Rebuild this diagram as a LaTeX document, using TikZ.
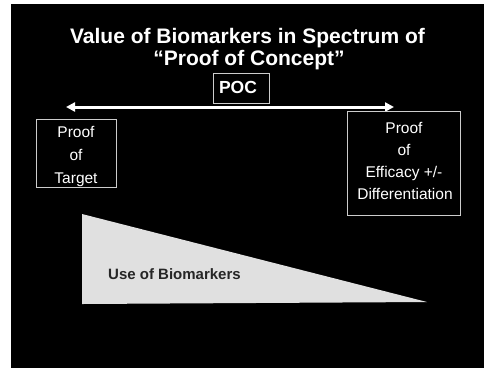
\documentclass[tikz,border=0pt]{standalone}
\usepackage{fontspec}
\setmainfont{Liberation Sans}
\usetikzlibrary{arrows.meta}
\begin{document}
\begin{tikzpicture}[x=1pt,y=-1pt,
  ttl/.style={text=white,font=\fontsize{21}{25}\selectfont\bfseries,anchor=base,inner sep=0pt},
  lbl/.style={text=white,font=\fontsize{15.5}{18}\selectfont,anchor=base,inner sep=0pt},
  frame/.style={draw=white!80!black,line width=0.6pt},
  poc/.style={text=white,font=\fontsize{17.5}{20}\selectfont\bfseries,anchor=base,inner sep=0pt},
  span/.style={draw=white,line width=3pt,{Triangle[length=9pt,width=9pt]}-{Triangle[length=9pt,width=9pt]}}
]
\useasboundingbox (0,0) rectangle (484,368);
\fill[white] (0,0) rectangle (484,368);
\fill[black] (11,4) rectangle (484,368);
% title
\node[ttl] (t1) at (247.5,43) {Value of Biomarkers in Spectrum of};
\node[ttl] (t2) at (249,65) {“Proof of Concept”};
% POC box
\node[frame,minimum width=56pt,minimum height=30pt,inner sep=0pt] (pocbox) at (241,88) {};
\node[poc] (poclbl) at (238,93) {POC};
% arrow
\coordinate (aL) at (66,107);
\coordinate (aR) at (394,107);
\draw[span] (aL) -- (aR);
% left box
\node[frame,minimum width=80pt,minimum height=68pt,inner sep=0pt] (lbox) at (76,153) {};
\node[lbl] (l1) at (76,137) {Proof};
\node[lbl] (l2) at (76,160) {of};
\node[lbl] (l3) at (76,183) {Target};
% right box
\node[frame,minimum width=113pt,minimum height=104pt,inner sep=0pt] (rbox) at (403.5,163) {};
\node[lbl] (r1) at (404,133) {Proof};
\node[lbl] (r2) at (404,155) {of};
\node[lbl] (r3) at (404,177) {Efficacy +/-};
\node[lbl] (r4) at (405,199) {Differentiation};
% triangle
\coordinate (tA) at (82,214);
\coordinate (tB) at (82,304);
\coordinate (tC) at (427,302);
\fill[black!12] (tA) -- (tC) -- (tB) -- cycle;
\node[text=black!85,font=\fontsize{15}{18}\selectfont\bfseries,anchor=base west,inner sep=0pt] (use) at (108,279) {Use of Biomarkers};
\end{tikzpicture}
\end{document}
